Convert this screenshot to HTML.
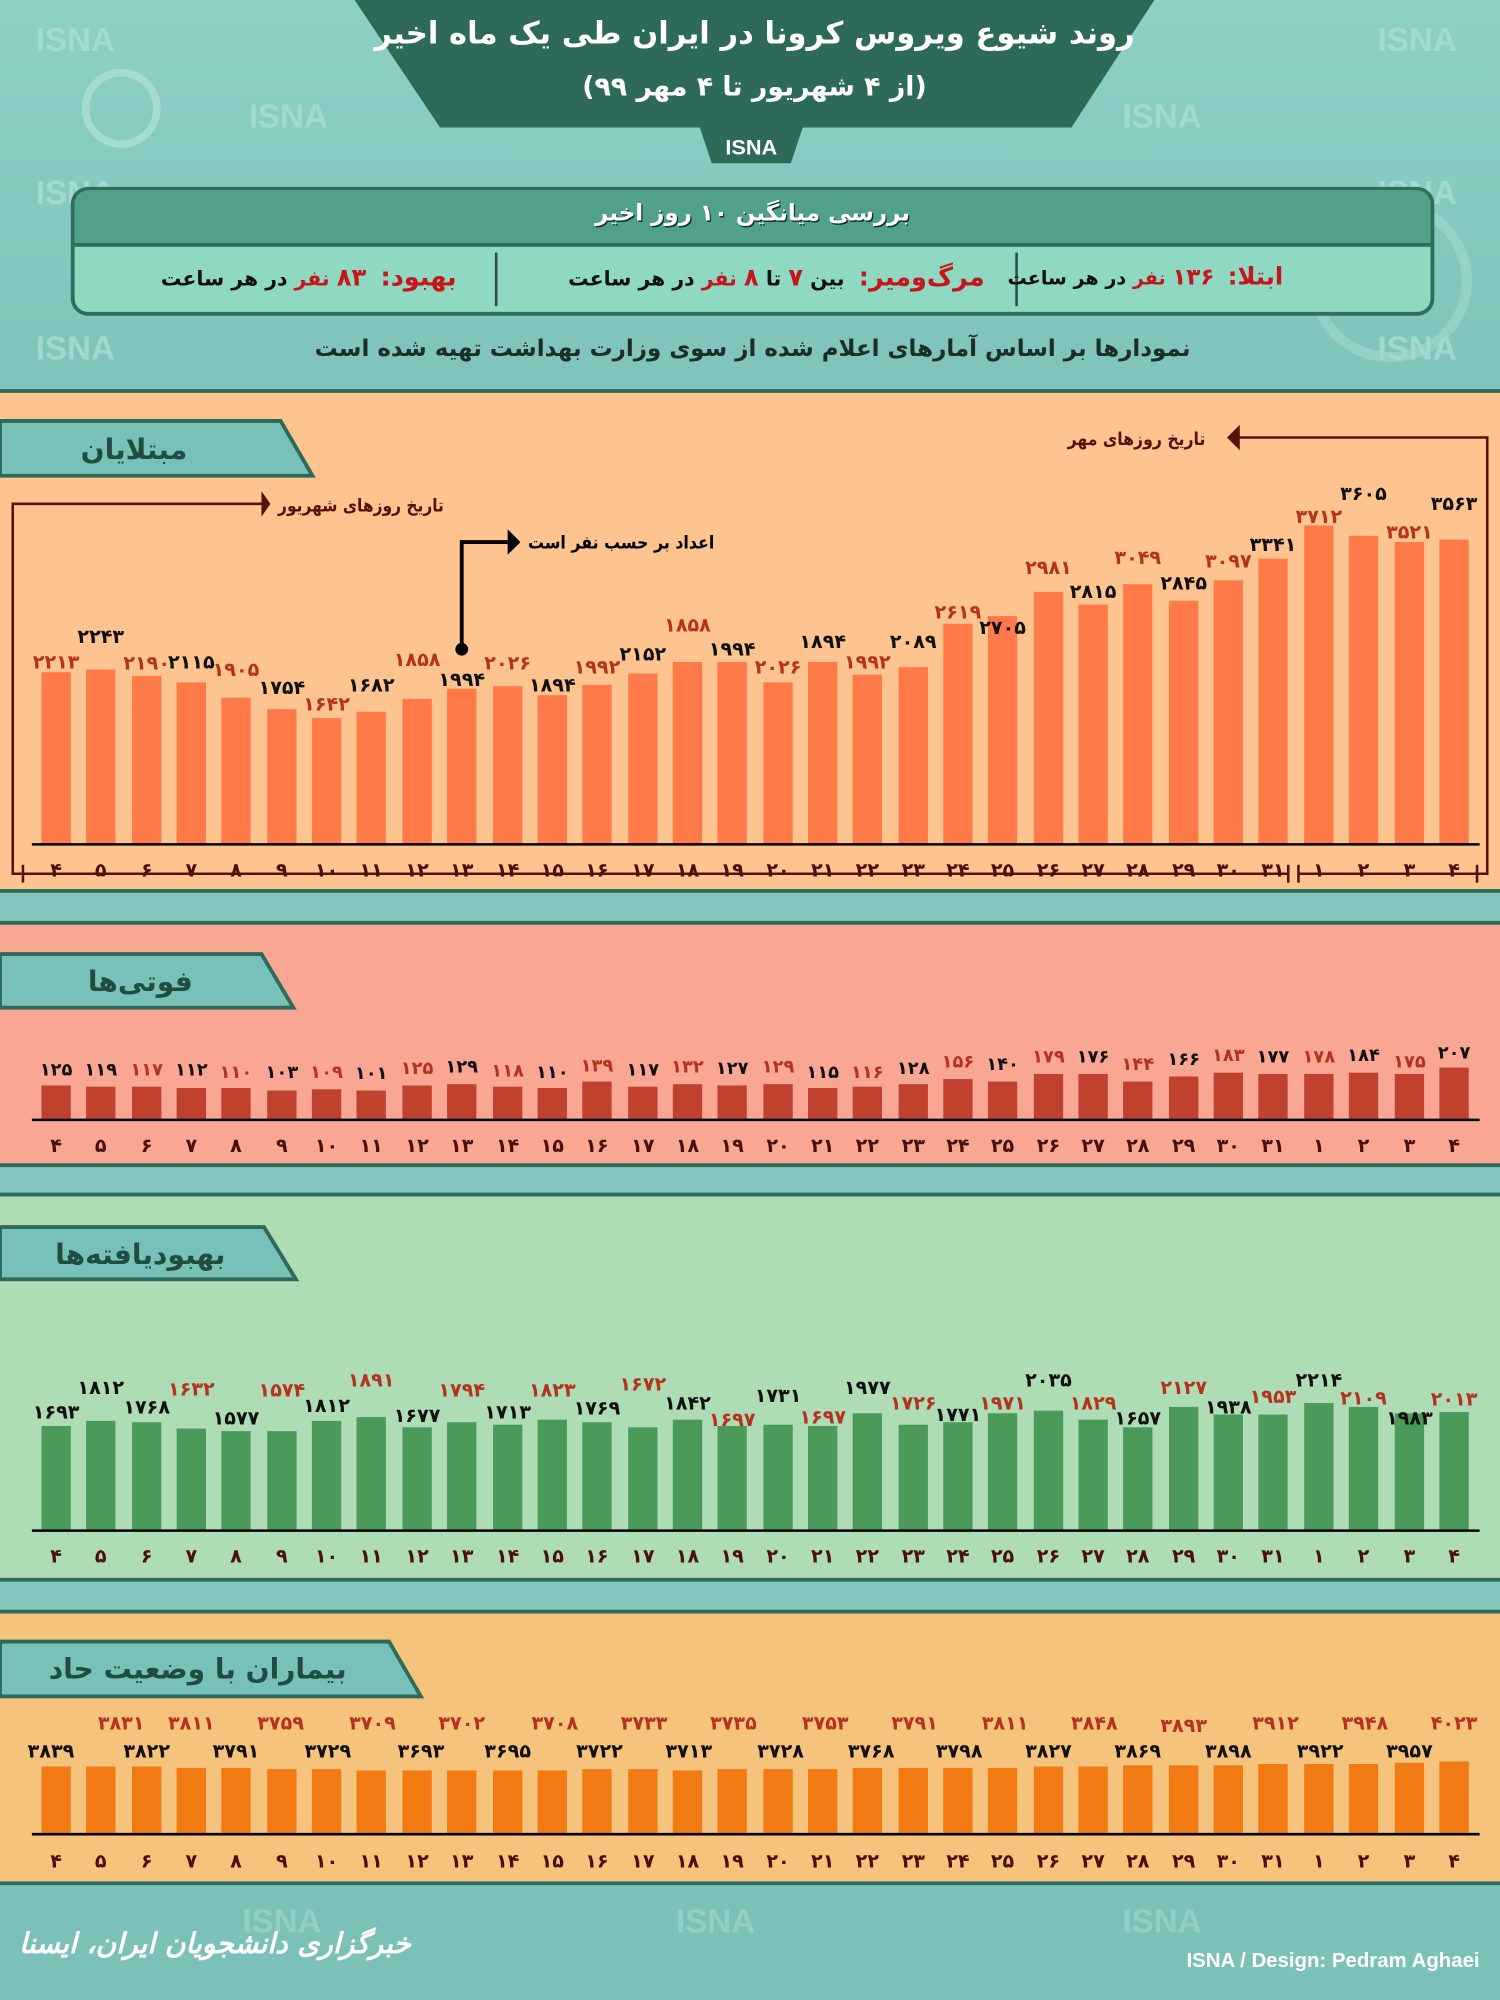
<!DOCTYPE html>
<html><head><meta charset="utf-8">
<style>
html,body{margin:0;padding:0;}
body{width:1500px;height:2000px;overflow:hidden;background:#8ccbc2;}
#wrap{position:absolute;left:0;top:0;width:1176px;height:1568px;transform:scale(1.27551);transform-origin:0 0;font-family:"DejaVu Sans","Liberation Sans",sans-serif;}
svg{position:absolute;left:0;top:0;}
.h{position:absolute;direction:rtl;font-weight:bold;white-space:nowrap;font-family:"DejaVu Sans","Liberation Sans",sans-serif;}
.r{color:#c4161c}
</style></head><body><div id="wrap">
<svg width="1176" height="1568" viewBox="0 0 1176 1568" font-family="DejaVu Sans, Liberation Sans, sans-serif" font-weight="bold">
<defs>
<linearGradient id="tg" x1="0" y1="0" x2="0" y2="1"><stop offset="0" stop-color="#8ed0c6"/><stop offset="1" stop-color="#7fc3ba"/></linearGradient>
</defs>
<rect x="0" y="0" width="1176" height="305" fill="url(#tg)"/>
<g fill="#a9ddd5" font-size="26" font-family="Liberation Sans" opacity="0.8">
<text x="28" y="40">ISNA</text><text x="195" y="100">ISNA</text><text x="880" y="100">ISNA</text><text x="1080" y="40">ISNA</text>
<text x="28" y="282">ISNA</text><text x="1080" y="282">ISNA</text><text x="28" y="160">ISNA</text><text x="1080" y="160">ISNA</text>
</g>
<circle cx="95" cy="85" r="28" fill="none" stroke="#a6dbd3" stroke-width="6"/>
<circle cx="1090" cy="220" r="60" fill="none" stroke="#a3d8cf" stroke-width="8" opacity="0.6"/>
<polygon points="278,0 905,0 840,100 345,100" fill="#2d6a59"/>
<polygon points="548,98 630,98 620,128 558,128" fill="#2d6a59"/>
<text x="589" y="121" fill="#fff" font-size="17" text-anchor="middle" font-family="Liberation Sans">ISNA</text>
<rect x="57" y="148" width="1066" height="98" rx="12" fill="#8fd8c2" stroke="#2f6e5e" stroke-width="3"/>
<path d="M58.5 192 V160 a11 11 0 0 1 11 -11 H1110.5 a11 11 0 0 1 11 11 V192 Z" fill="#51a089"/>
<line x1="58" y1="192" x2="1122" y2="192" stroke="#2f6e5e" stroke-width="3"/>
<line x1="389" y1="198" x2="389" y2="240" stroke="#2f4a44" stroke-width="2"/>
<line x1="797" y1="198" x2="797" y2="240" stroke="#2f4a44" stroke-width="2"/>
<rect x="0" y="305" width="1176" height="395" fill="#fdc48f"/>
<rect x="0" y="305" width="1176" height="3" fill="#2d6a59"/>
<rect x="0" y="700" width="1176" height="22" fill="#84c6bd"/>
<rect x="0" y="697" width="1176" height="3" fill="#2d6a59"/>
<rect x="0" y="722" width="1176" height="193" fill="#f9a693"/>
<rect x="0" y="722" width="1176" height="3" fill="#2d6a59"/>
<rect x="0" y="915" width="1176" height="20" fill="#84c6bd"/>
<rect x="0" y="912" width="1176" height="3" fill="#2d6a59"/>
<rect x="0" y="935" width="1176" height="305" fill="#addcb5"/>
<rect x="0" y="935" width="1176" height="3" fill="#2d6a59"/>
<rect x="0" y="1240" width="1176" height="22" fill="#84c6bd"/>
<rect x="0" y="1237" width="1176" height="3" fill="#2d6a59"/>
<rect x="0" y="1262" width="1176" height="216" fill="#f6c37c"/>
<rect x="0" y="1262" width="1176" height="3" fill="#2d6a59"/>
<rect x="0" y="1478" width="1176" height="90" fill="#7cc1b7"/>
<rect x="0" y="1475" width="1176" height="3" fill="#2d6a59"/>
<polygon points="0,330 220,330 245,373 0,373" fill="#78c1b8" stroke="#2d6a59" stroke-width="3"/>
<polygon points="0,748 205,748 230,790 0,790" fill="#78c1b8" stroke="#2d6a59" stroke-width="3"/>
<polygon points="0,962 207,962 232,1003 0,1003" fill="#78c1b8" stroke="#2d6a59" stroke-width="3"/>
<polygon points="0,1287 305,1287 330,1330 0,1330" fill="#78c1b8" stroke="#2d6a59" stroke-width="3"/>
<g fill="#1f4d42" font-size="22" text-anchor="middle" direction="rtl">
<text x="105" y="360">مبتلایان</text>
<text x="110" y="777">فوتی‌ها</text>
<text x="110" y="991">بهبودیافته‌ها</text>
<text x="155" y="1316">بیماران با وضعیت حاد</text>
</g>
<g stroke="#5a0f0f" stroke-width="2" fill="none">
<polyline points="205,395 10,395 10,685 18,685"/>
<polyline points="965,343 1166,343 1166,685 1158,685"/>
<line x1="18" y1="678" x2="18" y2="692"/>
<line x1="1010" y1="678" x2="1010" y2="692"/>
<line x1="1018" y1="678" x2="1018" y2="692"/>
<line x1="1158" y1="678" x2="1158" y2="692"/>
<line x1="18" y1="685" x2="1010" y2="685"/>
<line x1="1018" y1="685" x2="1158" y2="685"/>
</g>
<polygon points="205,385 212,395 205,405" fill="#5a0f0f"/>
<polygon points="972,333 962,343 972,353" fill="#5a0f0f"/>
<g font-size="14" fill="#5a0f0f" direction="rtl">
<text x="348" y="401" text-anchor="start" textLength="130" lengthAdjust="spacingAndGlyphs">تاریخ روزهای شهریور</text>
<text x="945" y="349" text-anchor="start" textLength="108" lengthAdjust="spacingAndGlyphs">تاریخ روزهای مهر</text>
</g>
<polyline points="362,509 362,425 398,425" stroke="#000" stroke-width="3" fill="none"/>
<polygon points="398,415 408,425 398,435" fill="#000"/>
<circle cx="362" cy="509" r="5" fill="#000"/>
<text x="560" y="430" font-size="14" fill="#000" direction="rtl" text-anchor="start" textLength="146" lengthAdjust="spacingAndGlyphs">اعداد بر حسب نفر است</text>

<g fill="#ff7a48">
<rect x="32.5" y="527" width="23" height="135"/><rect x="67.5" y="525" width="23" height="137"/><rect x="103.5" y="530" width="23" height="132"/><rect x="138.5" y="535" width="23" height="127"/><rect x="173.5" y="547" width="23" height="115"/><rect x="209.5" y="556" width="23" height="106"/><rect x="244.5" y="563" width="23" height="99"/><rect x="279.5" y="558" width="23" height="104"/><rect x="315.5" y="548" width="23" height="114"/><rect x="350.5" y="540" width="23" height="122"/><rect x="386.5" y="538" width="23" height="124"/><rect x="421.5" y="545" width="23" height="117"/><rect x="456.5" y="537" width="23" height="125"/><rect x="492.5" y="528" width="23" height="134"/><rect x="527.5" y="519" width="23" height="143"/><rect x="562.5" y="519" width="23" height="143"/><rect x="598.5" y="535" width="23" height="127"/><rect x="633.5" y="519" width="23" height="143"/><rect x="668.5" y="529" width="23" height="133"/><rect x="704.5" y="523" width="23" height="139"/><rect x="739.5" y="489" width="23" height="173"/><rect x="774.5" y="483" width="23" height="179"/><rect x="810.5" y="464" width="23" height="198"/><rect x="845.5" y="474" width="23" height="188"/><rect x="880.5" y="458" width="23" height="204"/><rect x="916.5" y="471" width="23" height="191"/><rect x="951.5" y="455" width="23" height="207"/><rect x="986.5" y="438" width="23" height="224"/><rect x="1022.5" y="412" width="23" height="250"/><rect x="1057.5" y="420" width="23" height="242"/><rect x="1093.5" y="425" width="23" height="237"/><rect x="1128.5" y="423" width="23" height="239"/>
</g>
<line x1="25" y1="662" x2="1160" y2="662" stroke="#000" stroke-width="2"/>
<g font-size="15" text-anchor="middle" letter-spacing="-0.5">
<text x="44" y="524" fill="#b5321f">۲۲۱۳</text><text x="79" y="504" fill="#111">۲۲۴۳</text><text x="115" y="525" fill="#b5321f">۲۱۹۰</text><text x="150" y="524" fill="#111">۲۱۱۵</text><text x="185" y="530" fill="#b5321f">۱۹۰۵</text><text x="221" y="544" fill="#111">۱۷۵۴</text><text x="256" y="557" fill="#b5321f">۱۶۴۲</text><text x="291" y="542" fill="#111">۱۶۸۲</text><text x="327" y="522" fill="#b5321f">۱۸۵۸</text><text x="362" y="538" fill="#111">۱۹۹۴</text><text x="398" y="525" fill="#b5321f">۲۰۲۶</text><text x="433" y="542" fill="#111">۱۸۹۴</text><text x="468" y="528" fill="#b5321f">۱۹۹۲</text><text x="504" y="518" fill="#111">۲۱۵۲</text><text x="539" y="495" fill="#b5321f">۱۸۵۸</text><text x="574" y="514" fill="#111">۱۹۹۴</text><text x="610" y="528" fill="#b5321f">۲۰۲۶</text><text x="645" y="508" fill="#111">۱۸۹۴</text><text x="680" y="524" fill="#b5321f">۱۹۹۲</text><text x="716" y="508" fill="#111">۲۰۸۹</text><text x="751" y="485" fill="#b5321f">۲۶۱۹</text><text x="786" y="497" fill="#111">۲۷۰۵</text><text x="822" y="450" fill="#b5321f">۲۹۸۱</text><text x="857" y="469" fill="#111">۲۸۱۵</text><text x="892" y="442" fill="#b5321f">۳۰۴۹</text><text x="928" y="462" fill="#111">۲۸۴۵</text><text x="963" y="445" fill="#b5321f">۳۰۹۷</text><text x="998" y="432" fill="#111">۳۳۴۱</text><text x="1034" y="410" fill="#b5321f">۳۷۱۲</text><text x="1069" y="392" fill="#111">۳۶۰۵</text><text x="1105" y="422" fill="#b5321f">۳۵۲۱</text><text x="1140" y="400" fill="#111">۳۵۶۳</text>
</g>

<g fill="#c0412d">
<rect x="32.5" y="851" width="23" height="27"/><rect x="67.5" y="852" width="23" height="26"/><rect x="103.5" y="852" width="23" height="26"/><rect x="138.5" y="853" width="23" height="25"/><rect x="173.5" y="853" width="23" height="25"/><rect x="209.5" y="855" width="23" height="23"/><rect x="244.5" y="854" width="23" height="24"/><rect x="279.5" y="855" width="23" height="23"/><rect x="315.5" y="851" width="23" height="27"/><rect x="350.5" y="850" width="23" height="28"/><rect x="386.5" y="852" width="23" height="26"/><rect x="421.5" y="853" width="23" height="25"/><rect x="456.5" y="848" width="23" height="30"/><rect x="492.5" y="852" width="23" height="26"/><rect x="527.5" y="850" width="23" height="28"/><rect x="562.5" y="851" width="23" height="27"/><rect x="598.5" y="850" width="23" height="28"/><rect x="633.5" y="853" width="23" height="25"/><rect x="668.5" y="852" width="23" height="26"/><rect x="704.5" y="850" width="23" height="28"/><rect x="739.5" y="846" width="23" height="32"/><rect x="774.5" y="848" width="23" height="30"/><rect x="810.5" y="842" width="23" height="36"/><rect x="845.5" y="842" width="23" height="36"/><rect x="880.5" y="848" width="23" height="30"/><rect x="916.5" y="844" width="23" height="34"/><rect x="951.5" y="841" width="23" height="37"/><rect x="986.5" y="842" width="23" height="36"/><rect x="1022.5" y="842" width="23" height="36"/><rect x="1057.5" y="841" width="23" height="37"/><rect x="1093.5" y="842" width="23" height="36"/><rect x="1128.5" y="837" width="23" height="41"/>
</g>
<line x1="25" y1="878" x2="1160" y2="878" stroke="#000" stroke-width="2"/>
<g font-size="14" text-anchor="middle" letter-spacing="-0.5">
<text x="44" y="843" fill="#111">۱۲۵</text><text x="79" y="843" fill="#111">۱۱۹</text><text x="115" y="843" fill="#b5321f">۱۱۷</text><text x="150" y="843" fill="#111">۱۱۲</text><text x="185" y="845" fill="#b5321f">۱۱۰</text><text x="221" y="845" fill="#111">۱۰۳</text><text x="256" y="845" fill="#b5321f">۱۰۹</text><text x="291" y="846" fill="#111">۱۰۱</text><text x="327" y="842" fill="#b5321f">۱۲۵</text><text x="362" y="841" fill="#111">۱۲۹</text><text x="398" y="844" fill="#b5321f">۱۱۸</text><text x="433" y="845" fill="#111">۱۱۰</text><text x="468" y="840" fill="#b5321f">۱۳۹</text><text x="504" y="843" fill="#111">۱۱۷</text><text x="539" y="841" fill="#b5321f">۱۳۲</text><text x="574" y="842" fill="#111">۱۲۷</text><text x="610" y="841" fill="#b5321f">۱۲۹</text><text x="645" y="845" fill="#111">۱۱۵</text><text x="680" y="845" fill="#b5321f">۱۱۶</text><text x="716" y="842" fill="#111">۱۲۸</text><text x="751" y="837" fill="#b5321f">۱۵۶</text><text x="786" y="839" fill="#111">۱۴۰</text><text x="822" y="833" fill="#b5321f">۱۷۹</text><text x="857" y="833" fill="#111">۱۷۶</text><text x="892" y="839" fill="#b5321f">۱۴۴</text><text x="928" y="835" fill="#111">۱۶۶</text><text x="963" y="832" fill="#b5321f">۱۸۳</text><text x="998" y="833" fill="#111">۱۷۷</text><text x="1034" y="833" fill="#b5321f">۱۷۸</text><text x="1069" y="832" fill="#111">۱۸۴</text><text x="1105" y="837" fill="#b5321f">۱۷۵</text><text x="1140" y="830" fill="#111">۲۰۷</text>
</g>

<g fill="#4c9a5a">
<rect x="32.5" y="1118" width="23" height="82"/><rect x="67.5" y="1114" width="23" height="86"/><rect x="103.5" y="1115" width="23" height="85"/><rect x="138.5" y="1120" width="23" height="80"/><rect x="173.5" y="1122" width="23" height="78"/><rect x="209.5" y="1122" width="23" height="78"/><rect x="244.5" y="1114" width="23" height="86"/><rect x="279.5" y="1111" width="23" height="89"/><rect x="315.5" y="1119" width="23" height="81"/><rect x="350.5" y="1115" width="23" height="85"/><rect x="386.5" y="1117" width="23" height="83"/><rect x="421.5" y="1113" width="23" height="87"/><rect x="456.5" y="1115" width="23" height="85"/><rect x="492.5" y="1119" width="23" height="81"/><rect x="527.5" y="1113" width="23" height="87"/><rect x="562.5" y="1118" width="23" height="82"/><rect x="598.5" y="1117" width="23" height="83"/><rect x="633.5" y="1118" width="23" height="82"/><rect x="668.5" y="1108" width="23" height="92"/><rect x="704.5" y="1117" width="23" height="83"/><rect x="739.5" y="1115" width="23" height="85"/><rect x="774.5" y="1108" width="23" height="92"/><rect x="810.5" y="1106" width="23" height="94"/><rect x="845.5" y="1113" width="23" height="87"/><rect x="880.5" y="1119" width="23" height="81"/><rect x="916.5" y="1103" width="23" height="97"/><rect x="951.5" y="1109" width="23" height="91"/><rect x="986.5" y="1109" width="23" height="91"/><rect x="1022.5" y="1100" width="23" height="100"/><rect x="1057.5" y="1103" width="23" height="97"/><rect x="1093.5" y="1108" width="23" height="92"/><rect x="1128.5" y="1107" width="23" height="93"/>
</g>
<line x1="25" y1="1200" x2="1160" y2="1200" stroke="#000" stroke-width="2"/>
<g font-size="15" text-anchor="middle" letter-spacing="-0.5">
<text x="44" y="1112" fill="#111">۱۶۹۳</text><text x="79" y="1093" fill="#111">۱۸۱۲</text><text x="115" y="1108" fill="#111">۱۷۶۸</text><text x="150" y="1094" fill="#b5321f">۱۶۳۲</text><text x="185" y="1117" fill="#111">۱۵۷۷</text><text x="221" y="1095" fill="#b5321f">۱۵۷۴</text><text x="256" y="1107" fill="#111">۱۸۱۲</text><text x="291" y="1087" fill="#b5321f">۱۸۹۱</text><text x="327" y="1115" fill="#111">۱۶۷۷</text><text x="362" y="1095" fill="#b5321f">۱۷۹۴</text><text x="398" y="1112" fill="#111">۱۷۱۳</text><text x="433" y="1095" fill="#b5321f">۱۸۲۳</text><text x="468" y="1109" fill="#111">۱۷۶۹</text><text x="504" y="1090" fill="#b5321f">۱۶۷۲</text><text x="539" y="1105" fill="#111">۱۸۴۲</text><text x="574" y="1118" fill="#b5321f">۱۶۹۷</text><text x="610" y="1099" fill="#111">۱۷۳۱</text><text x="645" y="1116" fill="#b5321f">۱۶۹۷</text><text x="680" y="1093" fill="#111">۱۹۷۷</text><text x="716" y="1105" fill="#b5321f">۱۷۲۶</text><text x="751" y="1114" fill="#111">۱۷۷۱</text><text x="786" y="1105" fill="#b5321f">۱۹۷۱</text><text x="822" y="1087" fill="#111">۲۰۳۵</text><text x="857" y="1105" fill="#b5321f">۱۸۲۹</text><text x="892" y="1117" fill="#111">۱۶۵۷</text><text x="928" y="1093" fill="#b5321f">۲۱۲۷</text><text x="963" y="1108" fill="#111">۱۹۳۸</text><text x="998" y="1100" fill="#b5321f">۱۹۵۳</text><text x="1034" y="1087" fill="#111">۲۲۱۴</text><text x="1069" y="1101" fill="#b5321f">۲۱۰۹</text><text x="1105" y="1117" fill="#111">۱۹۸۳</text><text x="1140" y="1102" fill="#b5321f">۲۰۱۳</text>
</g>

<g fill="#f27a12">
<rect x="32.5" y="1385" width="23" height="53"/><rect x="67.5" y="1385" width="23" height="53"/><rect x="103.5" y="1385" width="23" height="53"/><rect x="138.5" y="1386" width="23" height="52"/><rect x="173.5" y="1386" width="23" height="52"/><rect x="209.5" y="1387" width="23" height="51"/><rect x="244.5" y="1387" width="23" height="51"/><rect x="279.5" y="1388" width="23" height="50"/><rect x="315.5" y="1388" width="23" height="50"/><rect x="350.5" y="1388" width="23" height="50"/><rect x="386.5" y="1388" width="23" height="50"/><rect x="421.5" y="1388" width="23" height="50"/><rect x="456.5" y="1387" width="23" height="51"/><rect x="492.5" y="1387" width="23" height="51"/><rect x="527.5" y="1388" width="23" height="50"/><rect x="562.5" y="1387" width="23" height="51"/><rect x="598.5" y="1387" width="23" height="51"/><rect x="633.5" y="1387" width="23" height="51"/><rect x="668.5" y="1386" width="23" height="52"/><rect x="704.5" y="1386" width="23" height="52"/><rect x="739.5" y="1386" width="23" height="52"/><rect x="774.5" y="1386" width="23" height="52"/><rect x="810.5" y="1385" width="23" height="53"/><rect x="845.5" y="1385" width="23" height="53"/><rect x="880.5" y="1384" width="23" height="54"/><rect x="916.5" y="1384" width="23" height="54"/><rect x="951.5" y="1384" width="23" height="54"/><rect x="986.5" y="1383" width="23" height="55"/><rect x="1022.5" y="1383" width="23" height="55"/><rect x="1057.5" y="1383" width="23" height="55"/><rect x="1093.5" y="1382" width="23" height="56"/><rect x="1128.5" y="1381" width="23" height="57"/>
</g>
<line x1="25" y1="1438" x2="1160" y2="1438" stroke="#000" stroke-width="2"/>
<g font-size="15" text-anchor="middle" letter-spacing="-0.5" fill="#b5321f">
<text x="95" y="1356">۳۸۳۱</text><text x="150" y="1356">۳۸۱۱</text><text x="220" y="1356">۳۷۵۹</text><text x="292" y="1356">۳۷۰۹</text><text x="362" y="1356">۳۷۰۲</text><text x="435" y="1356">۳۷۰۸</text><text x="505" y="1356">۳۷۳۳</text><text x="575" y="1356">۳۷۳۵</text><text x="647" y="1356">۳۷۵۳</text><text x="717" y="1356">۳۷۹۱</text><text x="788" y="1356">۳۸۱۱</text><text x="858" y="1356">۳۸۴۸</text><text x="928" y="1358">۳۸۹۳</text><text x="1000" y="1356">۳۹۱۲</text><text x="1070" y="1356">۳۹۴۸</text><text x="1140" y="1356">۴۰۲۳</text>
</g>
<g font-size="15" text-anchor="middle" letter-spacing="-0.5" fill="#111">
<text x="40" y="1378">۳۸۳۹</text><text x="115" y="1378">۳۸۲۲</text><text x="185" y="1378">۳۷۹۱</text><text x="257" y="1378">۳۷۲۹</text><text x="330" y="1378">۳۶۹۳</text><text x="398" y="1378">۳۶۹۵</text><text x="470" y="1378">۳۷۲۲</text><text x="540" y="1378">۳۷۱۳</text><text x="612" y="1378">۳۷۲۸</text><text x="683" y="1378">۳۷۶۸</text><text x="752" y="1378">۳۷۹۸</text><text x="822" y="1378">۳۸۲۷</text><text x="892" y="1378">۳۸۶۹</text><text x="963" y="1378">۳۸۹۸</text><text x="1035" y="1378">۳۹۲۲</text><text x="1105" y="1378">۳۹۵۷</text>
</g>

<g font-size="15" text-anchor="middle" fill="#4a1010">
<g transform="translate(0,687)">
<text x="44">۴</text><text x="79">۵</text><text x="115">۶</text><text x="150">۷</text><text x="185">۸</text><text x="221">۹</text><text x="256">۱۰</text><text x="291">۱۱</text><text x="327">۱۲</text><text x="362">۱۳</text><text x="398">۱۴</text><text x="433">۱۵</text><text x="468">۱۶</text><text x="504">۱۷</text><text x="539">۱۸</text><text x="574">۱۹</text><text x="610">۲۰</text><text x="645">۲۱</text><text x="680">۲۲</text><text x="716">۲۳</text><text x="751">۲۴</text><text x="786">۲۵</text><text x="822">۲۶</text><text x="857">۲۷</text><text x="892">۲۸</text><text x="928">۲۹</text><text x="963">۳۰</text><text x="998">۳۱</text><text x="1034">۱</text><text x="1069">۲</text><text x="1105">۳</text><text x="1140">۴</text>
</g>
<g transform="translate(0,903)">
<text x="44">۴</text><text x="79">۵</text><text x="115">۶</text><text x="150">۷</text><text x="185">۸</text><text x="221">۹</text><text x="256">۱۰</text><text x="291">۱۱</text><text x="327">۱۲</text><text x="362">۱۳</text><text x="398">۱۴</text><text x="433">۱۵</text><text x="468">۱۶</text><text x="504">۱۷</text><text x="539">۱۸</text><text x="574">۱۹</text><text x="610">۲۰</text><text x="645">۲۱</text><text x="680">۲۲</text><text x="716">۲۳</text><text x="751">۲۴</text><text x="786">۲۵</text><text x="822">۲۶</text><text x="857">۲۷</text><text x="892">۲۸</text><text x="928">۲۹</text><text x="963">۳۰</text><text x="998">۳۱</text><text x="1034">۱</text><text x="1069">۲</text><text x="1105">۳</text><text x="1140">۴</text>
</g>
<g transform="translate(0,1225)">
<text x="44">۴</text><text x="79">۵</text><text x="115">۶</text><text x="150">۷</text><text x="185">۸</text><text x="221">۹</text><text x="256">۱۰</text><text x="291">۱۱</text><text x="327">۱۲</text><text x="362">۱۳</text><text x="398">۱۴</text><text x="433">۱۵</text><text x="468">۱۶</text><text x="504">۱۷</text><text x="539">۱۸</text><text x="574">۱۹</text><text x="610">۲۰</text><text x="645">۲۱</text><text x="680">۲۲</text><text x="716">۲۳</text><text x="751">۲۴</text><text x="786">۲۵</text><text x="822">۲۶</text><text x="857">۲۷</text><text x="892">۲۸</text><text x="928">۲۹</text><text x="963">۳۰</text><text x="998">۳۱</text><text x="1034">۱</text><text x="1069">۲</text><text x="1105">۳</text><text x="1140">۴</text>
</g>
<g transform="translate(0,1464)">
<text x="44">۴</text><text x="79">۵</text><text x="115">۶</text><text x="150">۷</text><text x="185">۸</text><text x="221">۹</text><text x="256">۱۰</text><text x="291">۱۱</text><text x="327">۱۲</text><text x="362">۱۳</text><text x="398">۱۴</text><text x="433">۱۵</text><text x="468">۱۶</text><text x="504">۱۷</text><text x="539">۱۸</text><text x="574">۱۹</text><text x="610">۲۰</text><text x="645">۲۱</text><text x="680">۲۲</text><text x="716">۲۳</text><text x="751">۲۴</text><text x="786">۲۵</text><text x="822">۲۶</text><text x="857">۲۷</text><text x="892">۲۸</text><text x="928">۲۹</text><text x="963">۳۰</text><text x="998">۳۱</text><text x="1034">۱</text><text x="1069">۲</text><text x="1105">۳</text><text x="1140">۴</text>
</g>
</g>
<g fill="#9fd6cd" font-size="26" font-family="Liberation Sans" opacity="0.7">
<text x="530" y="1515">ISNA</text><text x="190" y="1515">ISNA</text><text x="880" y="1515">ISNA</text>
</g>
<text x="1160" y="1542" fill="#fff" font-size="16" text-anchor="end" font-family="Liberation Sans">ISNA / Design: Pedram Aghaei</text>
</svg>

<div class="h" style="left:278px;width:627px;top:12px;text-align:center;color:#fff;font-size:24px;">روند شیوع ویروس کرونا در ایران طی یک ماه اخیر</div>
<div class="h" style="left:278px;width:627px;top:56px;text-align:center;color:#fff;font-size:21px;">(از ۴ شهریور تا ۴ مهر ۹۹)</div>
<div class="h" style="left:57px;width:1066px;top:157px;text-align:center;color:#fff;font-size:18px;text-shadow:1px 1px 0 #133;">بررسی میانگین ۱۰ روز اخیر</div>
<div class="h" style="right:170px;top:206px;font-size:15px;color:#111;"><span class="r" style="font-size:19px">ابتلا:</span>&nbsp;&nbsp;<span class="r" style="font-size:18px">۱۳۶</span><span class="r"> نفر</span> در هر ساعت</div>
<div class="h" style="right:404px;top:205px;font-size:16px;color:#111;"><span class="r" style="font-size:20px">مرگ‌ومیر:</span>&nbsp;&nbsp;بین <span class="r" style="font-size:19px">۷</span> تا <span class="r" style="font-size:19px">۸</span><span class="r"> نفر</span> در هر ساعت</div>
<div class="h" style="right:818px;top:205px;font-size:16px;color:#111;"><span class="r" style="font-size:20px">بهبود:</span>&nbsp;&nbsp;<span class="r" style="font-size:19px">۸۳</span><span class="r"> نفر</span> در هر ساعت</div>
<div class="h" style="left:0;width:1180px;top:263px;text-align:center;color:#1a2e2a;font-size:18px;">نمودارها بر اساس آمارهای اعلام شده از سوی وزارت بهداشت تهیه شده است</div>
<div class="h" style="left:15px;top:1512px;color:#fff;font-size:22px;font-style:italic;">خبرگزاری دانشجویان ایران، ایسنا</div>
</div></body></html>
